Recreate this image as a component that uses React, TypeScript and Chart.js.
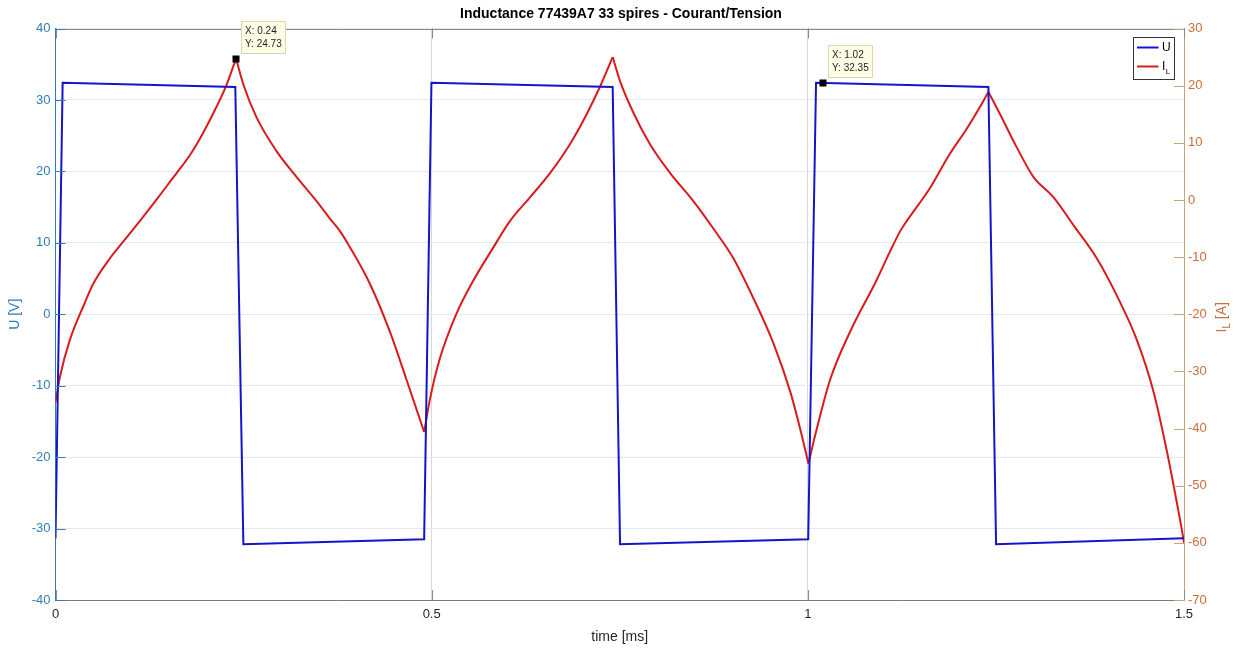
import React, { useEffect, useRef } from 'react';
import { Chart, registerables } from 'chart.js';

Chart.register(...registerables);

const FONT = '"Liberation Sans", Arial, Helvetica, sans-serif';

const chartTitle = 'Inductance 77439A7 33 spires - Courant/Tension';
const xAxisTitle = 'time [ms]';
const leftAxisTitle = 'U [V]';
const rightAxisTitleMain = 'I';
const rightAxisTitleSub = 'L';
const rightAxisTitleUnit = ' [A]';

const xTickValues = [0, 0.5, 1, 1.5];
const xTickLabels = ['0', '0.5', '1', '1.5'];

// U [V] (left axis)
const uTime = [0, 0.0095, 0.239, 0.2497, 0.49, 0.4997, 0.7406, 0.7504, 1.0005, 1.0109, 1.24, 1.2502, 1.5];
const uValues = [-31.4, 32.4, 31.8, -32.2, -31.5, 32.4, 31.8, -32.2, -31.5, 32.4, 31.8, -32.2, -31.35];

// I_L [A] (right axis)
const ilTime = [
  0, 0.006, 0.0193, 0.037, 0.05, 0.0724, 0.09, 0.112, 0.1345, 0.1477, 0.161, 0.179, 0.1965, 0.214, 0.2275, 0.24,
  0.2497, 0.2674, 0.294, 0.3206, 0.347, 0.365, 0.3783, 0.3915, 0.418, 0.4446, 0.4667, 0.48, 0.49,
  0.4978, 0.511, 0.533, 0.5554, 0.582, 0.604, 0.631, 0.6573, 0.684, 0.706, 0.724, 0.7406,
  0.7504, 0.768, 0.79, 0.817, 0.8478, 0.8744, 0.901, 0.928, 0.9543, 0.9765, 0.9897, 1.0008,
  1.012, 1.0295, 1.056, 1.0915, 1.1093, 1.1226, 1.1314, 1.1624, 1.188, 1.211, 1.2289, 1.24,
  1.2555, 1.2777, 1.3, 1.3264, 1.353, 1.384, 1.4106, 1.437, 1.4594, 1.477, 1.4904, 1.4992, 1.5,
];
const ilValues = [
  -35.4, -30.9, -24.4, -18.6, -14.7, -10.2, -7.3, -3.7, 0.1, 2.4, 4.7, 7.9, 11.8, 16.3, 20.2, 24.73,
  20.2, 14.4, 8.5, 4.0, -0.2, -3.3, -5.5, -8.3, -14.7, -23.1, -31.5, -36.7, -40.6,
  -34.8, -27.7, -19.9, -14.1, -8.3, -3.7, 0.5, 4.7, 9.8, 15.0, 19.9, 25.0,
  20.8, 15.3, 9.8, 4.7, -0.2, -5.0, -10.2, -17.3, -25.1, -33.5, -40.0, -46.1,
  -40.0, -31.5, -23.1, -14.0, -9.0, -5.5, -3.7, 2.1, 7.9, 12.4, 16.3, 18.9,
  15.0, 9.2, 4.0, 0.5, -4.4, -10.2, -16.7, -24.4, -33.5, -43.8, -52.9, -59.3, -60.0,
];

// data tips
const tipX = [0.24, 1.02];
const tipY = [24.73, 32.35];
const tipAxis = ['y1', 'y'];
const tipLabelX = ['0.24', '1.02'];
const tipLabelY = ['24.73', '32.35'];

const BLUE_AX = '#2f7fb5';
const ORANGE_AX = '#c8703a';
const ORANGE_LINE = '#c9a27c';
const U_COLOR = '#1414c8';
const IL_COLOR = '#d81c1c';

// split a series into monotonic branches (shared end points) so that each
// branch can be smoothed while the cusps stay sharp
function monotonicBranches(xs: number[], ys: number[]) {
  const branches: { x: number; y: number }[][] = [];
  let cur: { x: number; y: number }[] = [{ x: xs[0], y: ys[0] }];
  let dir = 0;
  for (let i = 1; i < xs.length; i++) {
    const d = Math.sign(ys[i] - ys[i - 1]);
    if (dir !== 0 && d !== 0 && d !== dir) {
      branches.push(cur);
      cur = [{ x: xs[i - 1], y: ys[i - 1] }];
    }
    if (d !== 0) dir = d;
    cur.push({ x: xs[i], y: ys[i] });
  }
  branches.push(cur);
  return branches;
}

function seg(ctx: CanvasRenderingContext2D, x1: number, y1: number, x2: number, y2: number) {
  ctx.beginPath();
  ctx.moveTo(x1, y1);
  ctx.lineTo(x2, y2);
  ctx.stroke();
}

const decorPlugin = {
  id: 'decor',
  afterDraw(chart: any) {
    const { ctx, chartArea: a, scales } = chart;
    const sx = scales.x, sy = scales.y, sy1 = scales.y1;
    ctx.save();
    ctx.lineWidth = 1;
    ctx.strokeStyle = '#8a8a8a';
    seg(ctx, a.left, Math.round(a.top) + 0.5, a.right, Math.round(a.top) + 0.5);
    xTickValues.forEach((v) => {
      const px = Math.round(sx.getPixelForValue(v)) + 0.5;
      seg(ctx, px, a.bottom, px, a.bottom - 10);
      seg(ctx, px, a.top, px, a.top + 10);
    });
    ctx.strokeStyle = BLUE_AX;
    for (let v = -40; v <= 40; v += 10) {
      const py = Math.round(sy.getPixelForValue(v)) + 0.5;
      seg(ctx, a.left, py, a.left + 10, py);
    }
    ctx.strokeStyle = ORANGE_LINE;
    for (let v = -70; v <= 30; v += 10) {
      const py = Math.round(sy1.getPixelForValue(v)) + 0.5;
      seg(ctx, a.right - 10, py, a.right, py);
    }

    // right axis title, rotated
    ctx.save();
    ctx.translate(1222, (a.top + a.bottom) / 2 + 3);
    ctx.rotate(-Math.PI / 2);
    ctx.fillStyle = ORANGE_AX;
    ctx.textBaseline = 'middle';
    ctx.font = `14px ${FONT}`;
    const wMain = ctx.measureText(rightAxisTitleMain).width;
    ctx.font = `10px ${FONT}`;
    const wSub = ctx.measureText(rightAxisTitleSub).width;
    ctx.font = `14px ${FONT}`;
    const wUnit = ctx.measureText(rightAxisTitleUnit).width;
    let tx = -(wMain + wSub + wUnit) / 2;
    ctx.textAlign = 'left';
    ctx.fillText(rightAxisTitleMain, tx, 0);
    tx += wMain;
    ctx.font = `10px ${FONT}`;
    ctx.fillText(rightAxisTitleSub, tx, 5);
    tx += wSub;
    ctx.font = `14px ${FONT}`;
    ctx.fillText(rightAxisTitleUnit, tx, 0);
    ctx.restore();

    // data tips
    tipX.forEach((tv, i) => {
      const scale = tipAxis[i] === 'y1' ? sy1 : sy;
      const px = sx.getPixelForValue(tv);
      const py = scale.getPixelForValue(tipY[i]);
      ctx.fillStyle = '#000';
      ctx.fillRect(Math.round(px) - 3.5, Math.round(py) - 3.5, 7, 7);
      const bx = Math.round(px) + 5.5;
      const by = Math.round(py) - 37.5;
      ctx.fillStyle = '#fdfde6';
      ctx.fillRect(bx, by, 44, 32);
      ctx.strokeStyle = '#d9d6b8';
      ctx.strokeRect(bx, by, 44, 32);
      ctx.fillStyle = '#262626';
      ctx.font = `10px ${FONT}`;
      ctx.textAlign = 'left';
      ctx.textBaseline = 'middle';
      ctx.fillText('X: ' + tipLabelX[i], bx + 3.5, by + 10);
      ctx.fillText('Y: ' + tipLabelY[i], bx + 3.5, by + 23);
    });

    // legend
    const lx = 1133.5, ly = 37.5, lw = 41, lh = 42;
    ctx.fillStyle = '#ffffff';
    ctx.fillRect(lx, ly, lw, lh);
    ctx.lineWidth = 1;
    ctx.strokeStyle = '#333333';
    ctx.strokeRect(lx, ly, lw, lh);
    ctx.lineWidth = 2;
    ctx.strokeStyle = U_COLOR;
    seg(ctx, lx + 3.5, ly + 10, lx + 25, ly + 10);
    ctx.strokeStyle = IL_COLOR;
    seg(ctx, lx + 3.5, ly + 29, lx + 25, ly + 29);
    ctx.fillStyle = '#000';
    ctx.font = `12px ${FONT}`;
    ctx.textBaseline = 'middle';
    ctx.textAlign = 'left';
    ctx.fillText('U', lx + 28.5, ly + 10.5);
    ctx.fillText('I', lx + 28.5, ly + 29.5);
    const iw = ctx.measureText('I').width;
    ctx.font = `8px ${FONT}`;
    ctx.fillText('L', lx + 28.5 + iw + 0.5, ly + 34);
    ctx.restore();
  },
};

export default function App() {
  const canvasRef = useRef<HTMLCanvasElement | null>(null);

  useEffect(() => {
    const canvas = canvasRef.current;
    if (!canvas) return;
    const ilBranches = monotonicBranches(ilTime, ilValues);
    const datasets: any[] = [
      {
        label: 'U',
        data: uTime.map((t, i) => ({ x: t, y: uValues[i] })),
        borderColor: U_COLOR,
        backgroundColor: U_COLOR,
        borderWidth: 2,
        pointRadius: 0,
        tension: 0,
        yAxisID: 'y',
      },
      ...ilBranches.map((b, k) => ({
        label: k === 0 ? 'I_L' : '',
        data: b,
        borderColor: IL_COLOR,
        backgroundColor: IL_COLOR,
        borderWidth: 2,
        pointRadius: 0,
        cubicInterpolationMode: 'monotone',
        yAxisID: 'y1',
      })),
    ];
    const chart = new Chart(canvas, {
      type: 'line',
      data: { datasets },
      options: {
        animation: false,
        responsive: false,
        devicePixelRatio: 1,
        layout: { padding: 0 },
        plugins: {
          legend: { display: false },
          tooltip: { enabled: false },
          title: {
            display: true,
            text: chartTitle,
            color: '#000',
            font: { family: FONT, size: 14, weight: 'bold' },
            padding: { top: 6, bottom: 5.7 },
          },
        },
        scales: {
          x: {
            type: 'linear',
            min: 0,
            max: 1.5,
            afterBuildTicks: (s: any) => {
              s.ticks = xTickValues.map((v) => ({ value: v }));
            },
            ticks: {
              color: '#262626',
              font: { family: FONT, size: 13 },
              padding: 7,
              maxRotation: 0,
              callback: (v: any) => {
                const idx = xTickValues.indexOf(Number(v));
                return idx >= 0 ? xTickLabels[idx] : '';
              },
            },
            grid: { color: '#d8d8d8', drawTicks: false },
            border: { display: true, color: '#7a7a7a' },
            title: {
              display: true,
              text: xAxisTitle,
              color: '#262626',
              font: { family: FONT, size: 14 },
              padding: { top: 0, bottom: 2 },
            },
            afterFit: (s: any) => {
              s.height = 48;
            },
          },
          y: {
            type: 'linear',
            position: 'left',
            min: -40,
            max: 40,
            ticks: {
              stepSize: 10,
              color: BLUE_AX,
              font: { family: FONT, size: 13 },
              padding: 5,
            },
            grid: { color: '#e4e9ee', drawTicks: false },
            border: { display: true, color: BLUE_AX },
            title: {
              display: true,
              text: leftAxisTitle,
              color: BLUE_AX,
              font: { family: FONT, size: 14 },
              padding: { top: 7, bottom: 0 },
            },
            afterFit: (s: any) => {
              s.width = 55.5;
            },
          },
          y1: {
            type: 'linear',
            position: 'right',
            min: -70,
            max: 30,
            ticks: {
              stepSize: 10,
              color: ORANGE_AX,
              font: { family: FONT, size: 13 },
              padding: 4,
            },
            grid: { display: false, drawTicks: false },
            border: { display: true, color: ORANGE_LINE },
            afterFit: (s: any) => {
              s.width = 58;
            },
          },
        },
      },
      plugins: [decorPlugin],
    } as any);
    return () => chart.destroy();
  }, []);

  return (
    <div style={{ position: 'fixed', left: 0, top: 0, width: 1242, height: 648, background: '#fff' }}>
      <canvas ref={canvasRef} width={1242} height={648} style={{ display: 'block' }} />
    </div>
  );
}
